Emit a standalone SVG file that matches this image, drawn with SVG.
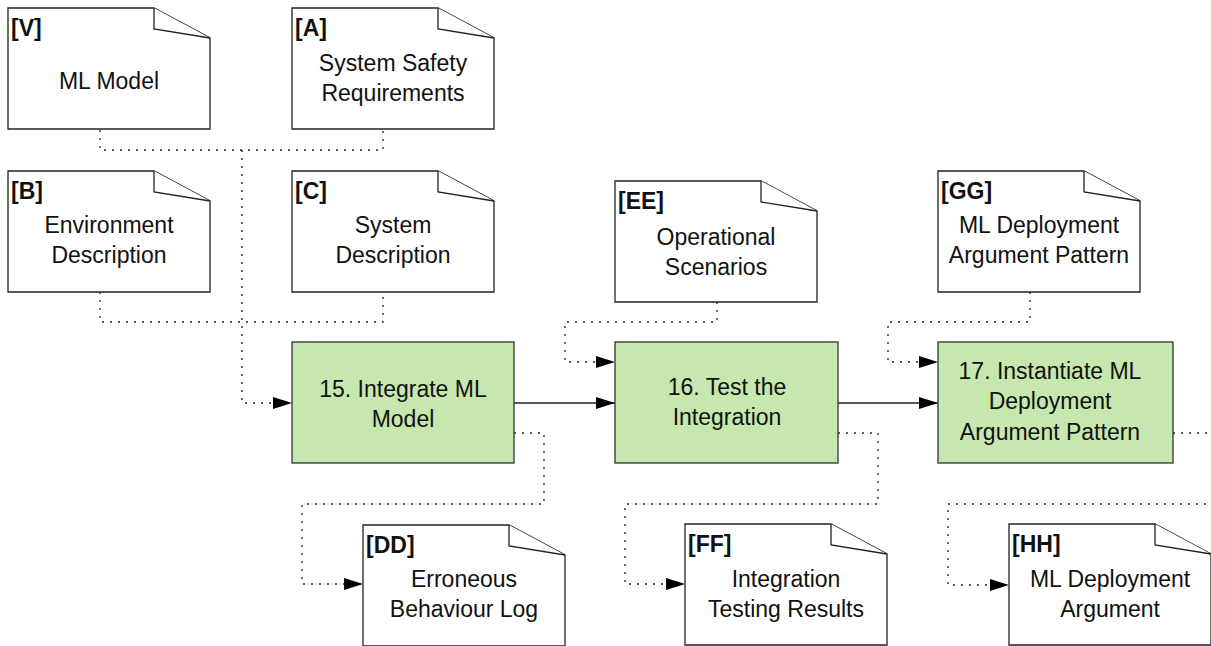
<svg xmlns="http://www.w3.org/2000/svg" xmlns:xlink="http://www.w3.org/1999/xlink" width="1211" height="646" viewBox="0 0 1211 646">
<style>
.doc{fill:#fff;stroke:#222;stroke-width:1.3}
.proc{fill:#c6e7ae;stroke:#333;stroke-width:1.3}
.t{font-family:"Liberation Sans",Arial,sans-serif;font-size:23px;fill:#111;text-anchor:middle}
.lbl{font-family:"Liberation Sans",Arial,sans-serif;font-size:23px;font-weight:bold;fill:#111}
.dot{fill:none;stroke:#222;stroke-width:1.3;stroke-dasharray:2 6}
.sol{fill:none;stroke:#222;stroke-width:1.3}
</style>
<defs>
<g id="docshape">
<path class="doc" d="M0 0 H146 L202 30 V121 H0 Z"/>
<path class="doc" d="M146 0 V21 L202 30"/>
</g>
<marker id="arr" markerUnits="userSpaceOnUse" markerWidth="19" markerHeight="12" refX="19" refY="6" orient="auto">
<path d="M0 0 L19 6 L0 12 Z" fill="#000"/>
</marker>
</defs>
<rect width="1211" height="646" fill="#fff"/>

<g id="connectors">
<path class="dot" d="M100 130 V150 H383 V130"/>
<path class="dot" d="M242 150 V403 H292" marker-end="url(#arr)"/>
<path class="dot" d="M100 292 V322 H383 V292"/>
<path class="dot" d="M717 302 V322 H565 V362 H615" marker-end="url(#arr)"/>
<path class="dot" d="M1030 292 V322 H888 V362 H938" marker-end="url(#arr)"/>
<path class="sol" d="M514 403 H615" marker-end="url(#arr)"/>
<path class="sol" d="M838 403 H938" marker-end="url(#arr)"/>
<path class="dot" d="M514 433 H544 V504 H302 V584 H363" marker-end="url(#arr)"/>
<path class="dot" d="M838 433 H878 V504 H625 V584 H685" marker-end="url(#arr)"/>
<path class="dot" d="M1173 433 H1230 V504 H948 V585 H1009" marker-end="url(#arr)"/>
</g>

<g id="doc-V">
<use xlink:href="#docshape" href="#docshape" transform="translate(8,8)"/>
<text class="lbl" x="11" y="36">[V]</text>
<text class="t" x="109" y="89">ML Model</text>
</g>
<g id="doc-A">
<use xlink:href="#docshape" href="#docshape" transform="translate(292,8)"/>
<text class="lbl" x="295" y="36">[A]</text>
<text class="t" x="393" y="71">System Safety</text>
<text class="t" x="393" y="101">Requirements</text>
</g>
<g id="doc-B">
<use xlink:href="#docshape" href="#docshape" transform="translate(8,171)"/>
<text class="lbl" x="11" y="199">[B]</text>
<text class="t" x="109" y="233">Environment</text>
<text class="t" x="109" y="263">Description</text>
</g>
<g id="doc-C">
<use xlink:href="#docshape" href="#docshape" transform="translate(292,171)"/>
<text class="lbl" x="295" y="199">[C]</text>
<text class="t" x="393" y="233">System</text>
<text class="t" x="393" y="263">Description</text>
</g>
<g id="doc-EE">
<use xlink:href="#docshape" href="#docshape" transform="translate(615,181)"/>
<text class="lbl" x="618" y="209">[EE]</text>
<text class="t" x="716" y="245">Operational</text>
<text class="t" x="716" y="275">Scenarios</text>
</g>
<g id="doc-GG">
<use xlink:href="#docshape" href="#docshape" transform="translate(938,171)"/>
<text class="lbl" x="941" y="199">[GG]</text>
<text class="t" x="1039" y="233">ML Deployment</text>
<text class="t" x="1039" y="263">Argument Pattern</text>
</g>

<g id="proc-15">
<rect class="proc" x="292" y="342" width="222" height="121"/>
<text class="t" x="403" y="397">15. Integrate ML</text>
<text class="t" x="403" y="427">Model</text>
</g>
<g id="proc-16">
<rect class="proc" x="615" y="342" width="223" height="121"/>
<text class="t" x="727" y="395">16. Test the</text>
<text class="t" x="727" y="425">Integration</text>
</g>
<g id="proc-17">
<rect class="proc" x="938" y="342" width="235" height="121"/>
<text class="t" x="1050" y="379">17. Instantiate ML</text>
<text class="t" x="1050" y="409">Deployment</text>
<text class="t" x="1050" y="440">Argument Pattern</text>
</g>

<g id="doc-DD">
<use xlink:href="#docshape" href="#docshape" transform="translate(363,525)"/>
<text class="lbl" x="366" y="553">[DD]</text>
<text class="t" x="464" y="587">Erroneous</text>
<text class="t" x="464" y="617">Behaviour Log</text>
</g>
<g id="doc-FF">
<use xlink:href="#docshape" href="#docshape" transform="translate(685,524)"/>
<text class="lbl" x="688" y="552">[FF]</text>
<text class="t" x="786" y="587">Integration</text>
<text class="t" x="786" y="617">Testing Results</text>
</g>
<g id="doc-HH">
<use xlink:href="#docshape" href="#docshape" transform="translate(1009,524)"/>
<text class="lbl" x="1012" y="552">[HH]</text>
<text class="t" x="1110" y="587">ML Deployment</text>
<text class="t" x="1110" y="617">Argument</text>
</g>
</svg>
